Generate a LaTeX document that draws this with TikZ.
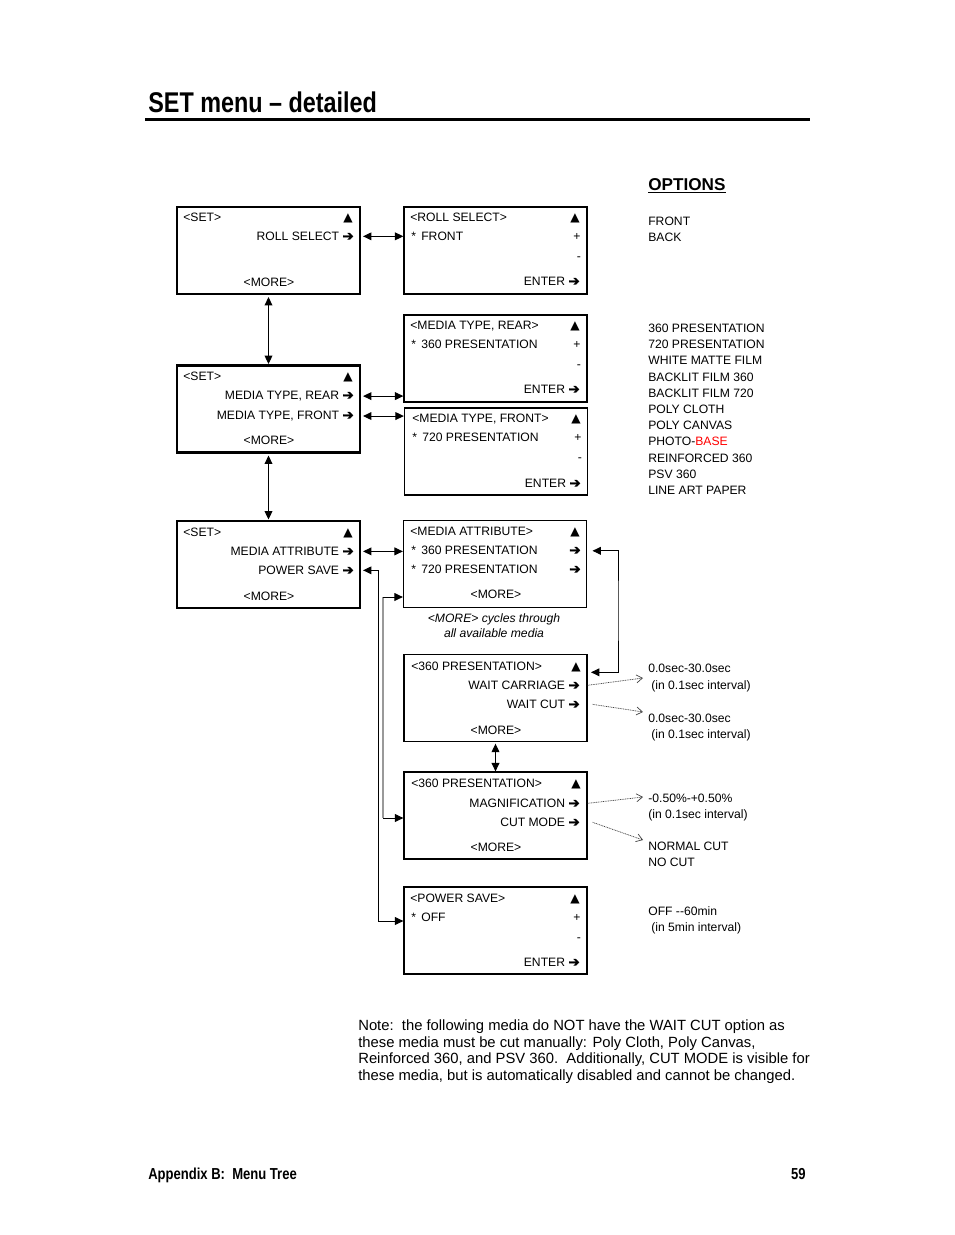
\documentclass[tikz,border=0pt]{standalone}
\usepackage{fontspec}
\setmainfont{Liberation Sans}
\newfontfamily\dvsym{DejaVu Sans}
\newfontfamily\dvarrow{DejaVu Sans}[FakeBold=2.5]
\newfontfamily\narrowbf{Liberation Sans Bold}[FakeStretch=0.82]
\usetikzlibrary{arrows.meta}
\usetikzlibrary{calc}

\newlength\px
\setlength\px{0.6417pt}
\newcommand\boxfont{\fontsize{7.8}{9.4}\selectfont}
\newcommand\arr{{\dvarrow\fontsize{8.6}{9.4}\selectfont ➔}}
\newcommand\tri{{\dvsym ▲}}

\tikzset{
  menubox/.style={draw, line width=0.8pt, minimum width=183\px, minimum height=87\px, inner sep=0pt},
  setbox/.style={menubox, line width=1.9pt},
  txt/.style={inner sep=0pt, font=\boxfont, anchor=base west},
  rtxt/.style={txt, anchor=base east},
  ctxt/.style={txt, anchor=base},
  link/.style={{Triangle[length=5.4pt,width=5pt]}-{Triangle[length=5.4pt,width=5pt]}, line width=0.6pt, shorten <=1pt},
  feed/.style={-{Triangle[length=5.4pt,width=5pt]}, line width=0.6pt},
  busline/.style={line width=0.9pt, black!40},
  optlink/.style={-{Straight Barb[length=3.8pt,width=5.1pt]}, dash pattern=on 0.6pt off 0.5pt, line width=0.45pt, black!75},
}

\begin{document}
\begin{tikzpicture}[x=1\px, y=-1\px]
  \useasboundingbox (0,0) rectangle (954,1235);

  % header and footer
  \node[anchor=base west, inner sep=0pt, font=\narrowbf\fontsize{18.3}{20}\selectfont] (title) at (148,112.5) {SET menu – detailed};
  \draw[line width=1.9pt] (145,119.5) -- (810,119.5);
  \node[anchor=base west, inner sep=0pt, font=\narrowbf\fontsize{10.2}{12}\selectfont] (foot) at (148,1179.5) {Appendix B:\ \ Menu Tree};
  \node[anchor=base east, inner sep=0pt, font=\narrowbf\fontsize{10.2}{12}\selectfont] (page) at (806,1179.5) {59};

  % left column: SET screens
  \node[setbox] (set1) at (268.5,250.5) {};
  \node[txt] (set1title) at (183,221) {<SET>};
  \node[ctxt] (set1up) at (348,221) {\tri};
  \node[rtxt] (set1roll) at (354,240.5) {ROLL SELECT \arr};
  \node[ctxt] (set1more) at (269,286.5) {<MORE>};

  \node[setbox] (set2) at (268.5,409) {};
  \node[txt] (set2title) at (183,380.5) {<SET>};
  \node[ctxt] (set2up) at (348,380.5) {\tri};
  \node[rtxt] (set2rear) at (354,399.5) {MEDIA TYPE, REAR \arr};
  \node[rtxt] (set2front) at (354,419.5) {MEDIA TYPE, FRONT \arr};
  \node[ctxt] (set2more) at (269,444.5) {<MORE>};

  \node[setbox] (set3) at (268.5,564.5) {};
  \node[txt] (set3title) at (183,536.5) {<SET>};
  \node[ctxt] (set3up) at (348,536.5) {\tri};
  \node[rtxt] (set3attr) at (354,555.5) {MEDIA ATTRIBUTE \arr};
  \node[rtxt] (set3pow) at (354,574.5) {POWER SAVE \arr};
  \node[ctxt] (set3more) at (269,600.5) {<MORE>};

  % right column: sub menus
  \node[menubox] (rollbox) at (495.5,250.5) {};
  \node[txt] (rolltitle) at (410,221) {<ROLL SELECT>};
  \node[ctxt] (rollup) at (575,221) {\tri};
  \node[txt] (rollstar) at (411,240.5) {*};
  \node[txt] (rollval) at (421,240.5) {FRONT};
  \node[ctxt] (rollplus) at (577,240.5) {+};
  \node[ctxt] (rollminus) at (579,260.5) {-};
  \node[rtxt] (rollenter) at (580,285.5) {ENTER \arr};

  \node[menubox] (rearbox) at (495.5,358.5) {};
  \node[txt] (reartitle) at (410,329.5) {<MEDIA TYPE, REAR>};
  \node[ctxt] (rearup) at (575,329.5) {\tri};
  \node[txt] (rearstar) at (411,348.5) {*};
  \node[txt] (rearval) at (421,348.5) {360 PRESENTATION};
  \node[ctxt] (rearplus) at (577,348.5) {+};
  \node[ctxt] (rearminus) at (579,368.5) {-};
  \node[rtxt] (rearenter) at (580,393.5) {ENTER \arr};

  \node[menubox] (frontbox) at (496,451.5) {};
  \node[txt] (fronttitle) at (412,422.5) {<MEDIA TYPE, FRONT>};
  \node[ctxt] (frontup) at (576,422.5) {\tri};
  \node[txt] (frontstar) at (412,441.5) {*};
  \node[txt] (frontval) at (422,441.5) {720 PRESENTATION};
  \node[ctxt] (frontplus) at (578,441.5) {+};
  \node[ctxt] (frontminus) at (580,461.5) {-};
  \node[rtxt] (frontenter) at (581,487.5) {ENTER \arr};

  \node[menubox] (attrbox) at (495,564) {};
  \node[txt] (attrtitle) at (410,535.5) {<MEDIA ATTRIBUTE>};
  \node[ctxt] (attrup) at (575,535.5) {\tri};
  \node[txt] (attrstar1) at (411,554.5) {*};
  \node[txt] (attrval1) at (421,554.5) {360 PRESENTATION};
  \node[ctxt] (attrarr1) at (575,554.5) {\arr};
  \node[txt] (attrstar2) at (411,573.5) {*};
  \node[txt] (attrval2) at (421,573.5) {720 PRESENTATION};
  \node[ctxt] (attrarr2) at (575,573.5) {\arr};
  \node[ctxt] (attrmore) at (496,598.5) {<MORE>};
  \node[ctxt, font=\boxfont\itshape] (cycle1) at (494,622.5) {<MORE> cycles through};
  \node[ctxt, font=\boxfont\itshape] (cycle2) at (494,637.5) {all available media};

  \node[menubox] (waitbox) at (495.5,698) {};
  \node[txt] (waittitle) at (411,670.5) {<360 PRESENTATION>};
  \node[ctxt] (waitup) at (576,670.5) {\tri};
  \node[rtxt] (waitcarr) at (580,689.5) {WAIT CARRIAGE \arr};
  \node[rtxt] (waitcut) at (580,708.5) {WAIT CUT \arr};
  \node[ctxt] (waitmore) at (496,734.5) {<MORE>};

  \node[menubox] (magbox) at (495.5,815.5) {};
  \node[txt] (magtitle) at (411,787.5) {<360 PRESENTATION>};
  \node[ctxt] (magup) at (576,787.5) {\tri};
  \node[rtxt] (magmag) at (580,807.5) {MAGNIFICATION \arr};
  \node[rtxt] (magmode) at (580,826.5) {CUT MODE \arr};
  \node[ctxt] (magmore) at (496,851.5) {<MORE>};

  \node[menubox] (powbox) at (495.5,930.5) {};
  \node[txt] (powtitle) at (410,902.5) {<POWER SAVE>};
  \node[ctxt] (powup) at (575,902.5) {\tri};
  \node[txt] (powstar) at (411,921.5) {*};
  \node[txt] (powval) at (421,921.5) {OFF};
  \node[ctxt] (powplus) at (577,921.5) {+};
  \node[ctxt] (powminus) at (579,941.5) {-};
  \node[rtxt] (powenter) at (580,966.5) {ENTER \arr};

  % options column
  \node[anchor=base west, inner sep=0pt, font=\bfseries\fontsize{11}{13}\selectfont] (opts) at (648,190) {OPTIONS};
  \draw[line width=1pt] ([yshift=-1.6pt]opts.base west) -- ([yshift=-1.6pt]opts.base east);
  \node[txt] (optfront) at (648,225.5) {FRONT};
  \node[txt] (optback) at (648,241.5) {BACK};
  \foreach \media [count=\i from 0] in {360 PRESENTATION, 720 PRESENTATION, WHITE MATTE FILM,
      BACKLIT FILM 360, BACKLIT FILM 720, POLY CLOTH, POLY CANVAS, {PHOTO-\textcolor{red}{BASE}},
      REINFORCED 360, PSV 360, LINE ART PAPER}
    \node[txt] (media\i) at (648,{332.5+16.2*\i}) {\media};
  \node[txt] (carrrange) at (648,672.5) {0.0sec-30.0sec};
  \node[txt] (carrstep) at (651,689.5) {(in 0.1sec interval)};
  \node[txt] (cutrange) at (648,722.5) {0.0sec-30.0sec};
  \node[txt] (cutstep) at (651,738.5) {(in 0.1sec interval)};
  \node[txt] (magrange) at (648,802.5) {-0.50\%-+0.50\%};
  \node[txt] (magstep) at (648,818.5) {(in 0.1sec interval)};
  \node[txt] (modenormal) at (648,850.5) {NORMAL CUT};
  \node[txt] (modenone) at (648,866.5) {NO CUT};
  \node[txt] (powrange) at (648,915.5) {OFF -{}-60min};
  \node[txt] (powstep) at (651,931.5) {(in 5min interval)};

  % note
  \node[anchor=base west, inner sep=0pt, align=left, font=\fontsize{9.5}{10.7}\selectfont] (note) at (358,1080.5)
    {Note:\ \ the following media do NOT have the WAIT CUT option as\\
     these media must be cut manually: Poly Cloth, Poly Canvas,\\
     Reinforced 360, and PSV 360.\ \ Additionally, CUT MODE is visible for\\
     these media, but is automatically disabled and cannot be changed.};

  % connectors
  \coordinate (attrloop) at (618,610);
  \coordinate (powbus) at (378,921);
  \coordinate (morebus) at (383,597);
  \coordinate (morebus2) at (383,818);
  \coordinate (carrtip) at (643,678);
  \coordinate (cuttip) at (643,712);
  \coordinate (magtip) at (643,797);
  \coordinate (modetip) at (643,840);

  \draw[link] (set1.east |- set1roll) -- (rollbox.west |- set1roll);
  \draw[link] (set1.south) -- (set2.north);
  \draw[link] (set2.east |- set2rear) -- (rearbox.west |- set2rear);
  \draw[link] (set2.east |- set2front) -- (frontbox.west |- set2front);
  \draw[link] (set2.south) -- (set3.north);
  \draw[link] (set3.east |- set3attr) -- (attrbox.west |- set3attr);
  \draw[link] ($(attrarr1.east)+(10,0)$) -| (attrloop) |- ($(waitup.south east)+(10,0)$);
  \draw[link] (set3.east |- set3pow) -| (powbus) -- (powbox.west |- powbus);
  \draw[busline] (morebus) -- (morebus2);
  \draw[feed] (morebus) -- (attrbox.west |- morebus);
  \draw[feed] (morebus2) -- (magbox.west |- morebus2);
  \draw[link] (waitbox.south) -- (magbox.north);

  \draw[optlink] (waitbox.east |- waitcarr) -- (carrtip);
  \draw[optlink] ($(waitbox.east |- waitcut)+(5,0)$) -- (cuttip);
  \draw[optlink] (magbox.east |- magmag) -- (magtip);
  \draw[optlink] ($(magbox.east |- magmode)+(5,0)$) -- (modetip);
\end{tikzpicture}
\end{document}
